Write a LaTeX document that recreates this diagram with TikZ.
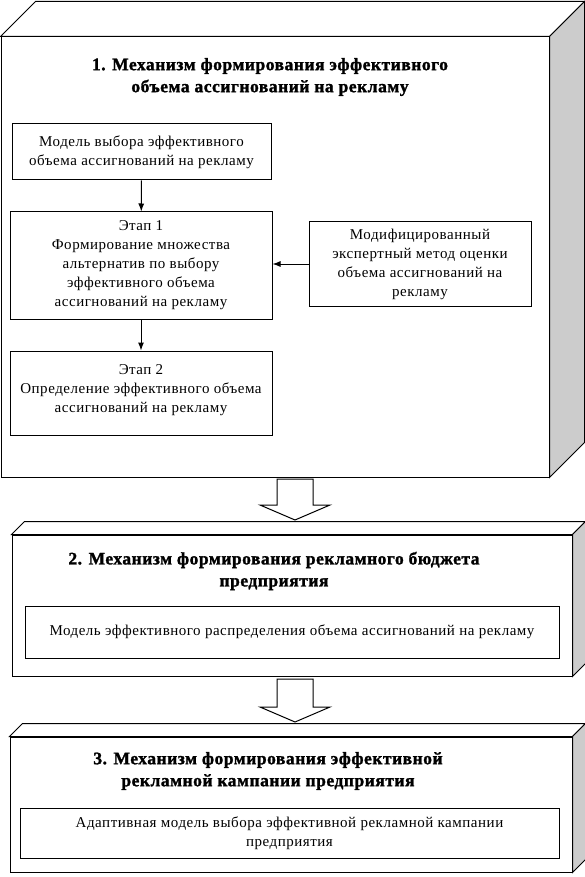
\documentclass[tikz,border=0pt]{standalone}
\usepackage{fontspec}
\setmainfont{Liberation Serif}
\newfontfamily\bodyfont{Liberation Serif}[LetterSpace=3.5]
\newfontfamily\headfont{Liberation Serif}[LetterSpace=3,FakeBold=1.5]
\usetikzlibrary{calc,arrows.meta}
\definecolor{sidegray}{RGB}{204,204,204}
\newcommand\slab[6]{\node[front,minimum width=#4,minimum height=#5] (#1) at (#2,#3) {};
\draw[fill=white] (#1.north west) -- ++(#6,-#6) -- ($(#1.north east)+(#6,-#6)$) -- (#1.north east) -- cycle;
\draw[fill=sidegray] (#1.north east) -- ++(#6,-#6) -- ($(#1.south east)+(#6,-#6)$) -- (#1.south east) -- cycle;}
\newcommand\blockarrow[2]{\draw[fill=white] ($(#1)+(-18,0)$) -- ($(#1)+(18,0)$) -- ($(#2)+(18,-15)$) -- ($(#2)+(35,-15)$) -- (#2) -- ($(#2)+(-35,-15)$) -- ($(#2)+(-18,-15)$) -- cycle;}

\begin{document}
\begin{tikzpicture}[x=1pt,y=-1pt]
\tikzstyle{front}=[draw,fill=white,inner sep=0pt]
\tikzstyle{box}=[draw,align=center,inner sep=2pt,font=\bodyfont\fontsize{15}{19}\selectfont]
\tikzstyle{title}=[align=center,font=\headfont\bfseries\fontsize{17.5}{22}\selectfont]
\tikzstyle{every path}=[line width=1pt]
\tikzstyle{link}=[-{Latex[length=8pt,width=6pt]}]
\useasboundingbox (0,0) rectangle (585,877);
% mechanism 1
\slab{mech1}{275}{257}{548}{440}{35}
\node[title] (title1) at (270,77) {1. Механизм формирования эффективного\\объема ассигнований на рекламу};
\node[box,minimum width=259,minimum height=56] (model1) at (141.5,152) {Модель выбора эффективного\\объема ассигнований на рекламу};
\node[box,minimum width=262,minimum height=107] (stage1) at (141,265.5) {Этап 1\\Формирование множества\\альтернатив по выбору\\эффективного объема\\ассигнований на рекламу};
\node[box,minimum width=262,minimum height=84] (stage2) at (141,393) {Этап 2\\Определение эффективного объема\\ассигнований на рекламу\\[-10pt]};
\node[box,minimum width=222,minimum height=84] (method) at (420,264) {Модифицированный\\экспертный метод оценки\\объема ассигнований на\\рекламу};
\draw[link] (model1) -- (stage1);
\draw[link] (stage1) -- (stage2);
\draw[link] (method) -- (stage1.east |- method.west);
% mechanism 2
\coordinate (a1top) at (295,479);
\coordinate (a1tip) at (295,520);
\blockarrow{a1top}{a1tip}
\slab{mech2}{292}{605.5}{560}{141}{13}
\node[title] (title2) at (274,571) {2. Механизм формирования рекламного бюджета\\предприятия};
\node[box,minimum width=534,minimum height=52] (model2) at (292,632) {Модель эффективного распределения объема ассигнований на рекламу};
% mechanism 3
\coordinate (a2top) at (295,679);
\coordinate (a2tip) at (295,722);
\blockarrow{a2top}{a2tip}
\slab{mech3}{291}{804.5}{562}{135}{13}
\node[title] (title3) at (268,771) {3. Механизм формирования эффективной\\рекламной кампании предприятия};
\node[box,minimum width=539,minimum height=50] (model3) at (289.5,833) {Адаптивная модель выбора эффективной рекламной кампании\\предприятия};
\end{tikzpicture}
\end{document}
